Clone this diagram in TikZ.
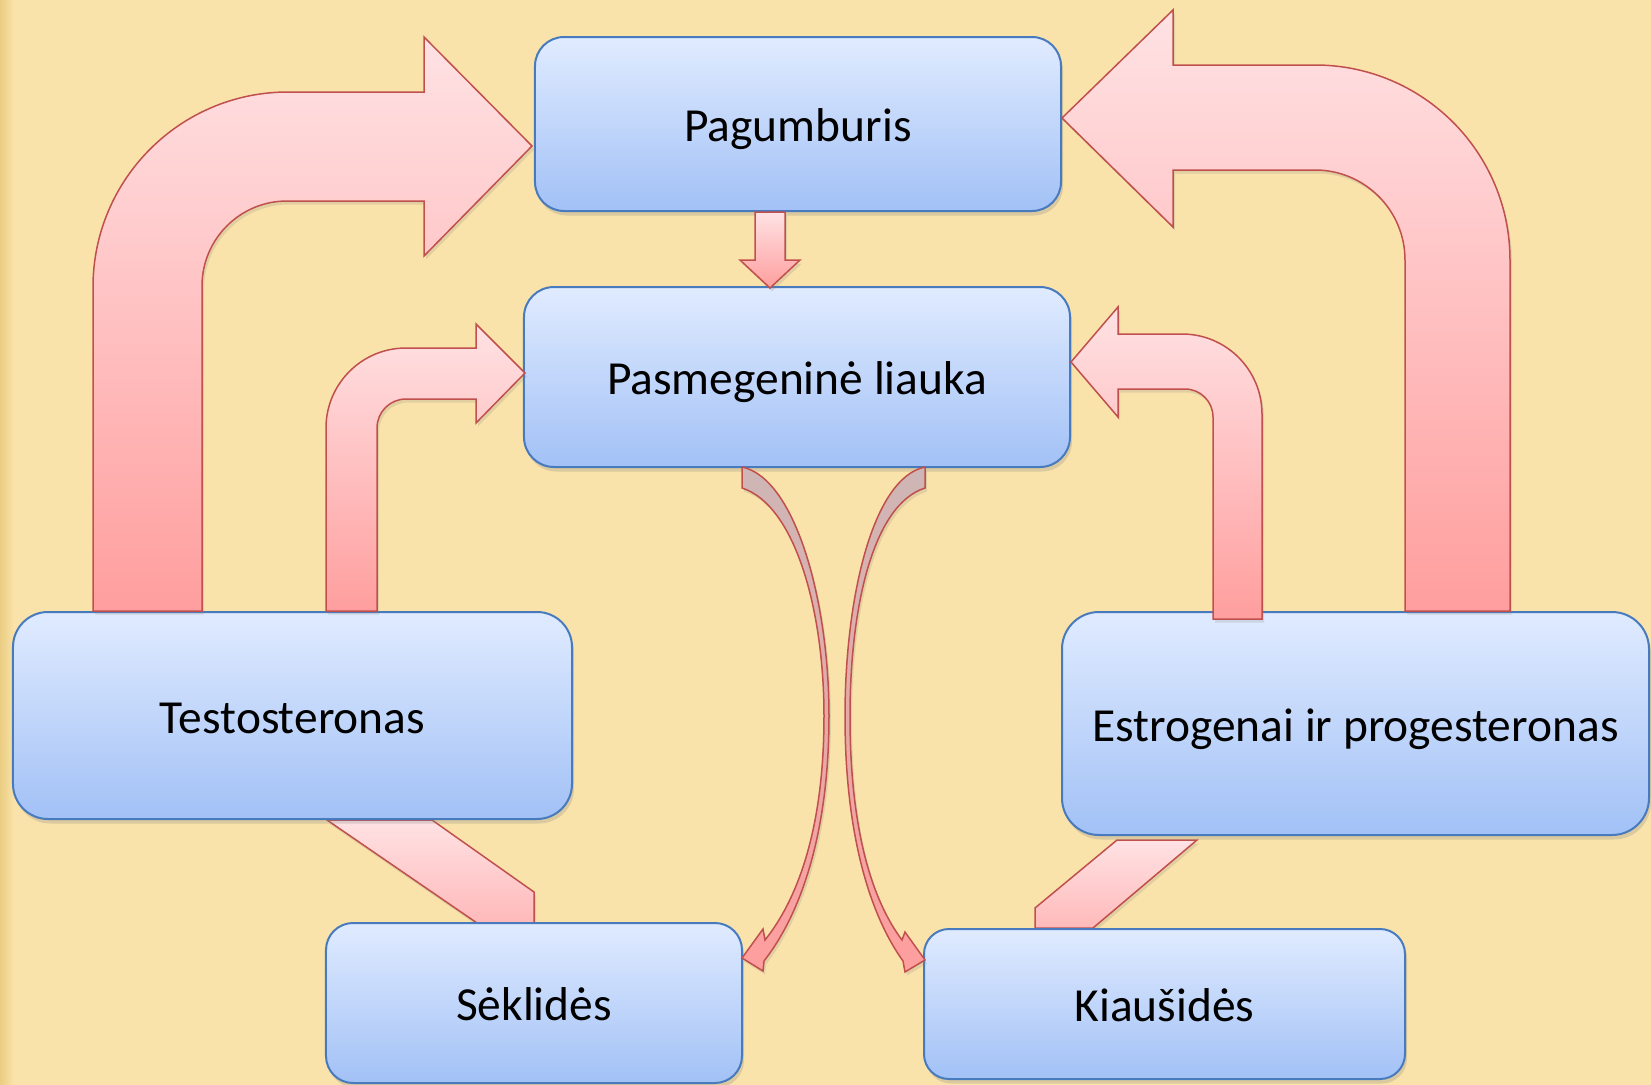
\documentclass[tikz,border=0pt]{standalone}
\usepackage{fontspec}
\setmainfont{Carlito}
\usepackage{tikz}
\usetikzlibrary{shadows}
\usepackage{xcolor}
\definecolor{bg}{RGB}{250,227,170}
\definecolor{bgedge}{RGB}{234,205,130}
\definecolor{boxtop}{RGB}{224,235,255}
\definecolor{boxbot}{RGB}{162,193,246}
\definecolor{boxline}{RGB}{72,122,190}
\definecolor{arrtop}{RGB}{255,226,228}
\definecolor{arrbot}{RGB}{255,158,158}
\definecolor{arrline}{RGB}{192,80,77}
\definecolor{curvetop}{RGB}{206,182,182}
\tikzset{
  organ/.style={draw=boxline, line width=0.4mm, top color=boxtop, bottom color=boxbot,
    inner sep=0pt, outer sep=0pt, font=\fontsize{27}{32}\selectfont,
    text height=20pt, text depth=0pt,
    drop shadow={opacity=0.25, shadow xshift=0.4mm, shadow yshift=-0.9mm}},
  blockarrow/.style={draw=arrline, line width=0.3mm, top color=arrtop, bottom color=arrbot,
    drop shadow={opacity=0.2, shadow xshift=0.4mm, shadow yshift=-0.7mm}},
  thinarrow/.style={blockarrow, top color=curvetop, bottom color=arrbot}
}

\begin{document}
\begin{tikzpicture}[x=0.2mm, y=-0.2mm]
  \fill[bg] (0,0) rectangle (1651,1085);
  \shade[left color=bgedge, right color=bg] (0,0) rectangle (14,1085);
  \useasboundingbox (0,0) rectangle (1651,1085);

  \path[blockarrow, bottom color=arrbot!60!arrtop] (327,820) -- (432,820) -- (534,892) -- (534,923) -- (477,923) -- cycle;
  \path[blockarrow, bottom color=arrbot!60!arrtop] (1117,840) -- (1197,840) -- (1093,928) -- (1035,928) -- (1035,908) -- cycle;

  \node[organ, rounded corners=5.8mm, minimum width=105.2mm, minimum height=34.8mm] (pag) at (798,124) {Pagumburis};
  \node[organ, rounded corners=6mm, minimum width=109.2mm, minimum height=36mm] (pas) at (797,377) {Pasmegeninė liauka};
  \node[organ, rounded corners=7mm, minimum width=111.8mm, minimum height=41.4mm] (tes) at (292.5,715.5) {Testosteronas};
  \node[organ, rounded corners=7.4mm, minimum width=117.4mm, minimum height=44.6mm] (est) at (1355.5,723.5) {Estrogenai ir progesteronas};
  \node[organ, rounded corners=5.4mm, minimum width=83.2mm, minimum height=32mm] (sek) at (534,1003) {Sėklidės};
  \node[organ, rounded corners=5mm, minimum width=96.2mm, minimum height=30mm] (kia) at (1164.5,1004) {Kiaušidės};

  \path[blockarrow] (93,611) -- (93,287) arc[start angle=180, end angle=270, radius=195] -- (424,92) -- (424,37) -- (532,146) -- (424,256) -- (424,201) -- (287,201) arc[start angle=270, end angle=180, radius=85] -- (202,611) -- cycle;
  \path[blockarrow] (1510,611) -- (1510,260) arc[start angle=0, end angle=-90, radius=195] -- (1173,65) -- (1173,10) -- (1062,118) -- (1173,227) -- (1173,170) -- (1315,170) arc[start angle=-90, end angle=0, radius=90] -- (1405,611) -- cycle;
  \path[blockarrow] (326,611) -- (326,428) arc[start angle=180, end angle=270, radius=80] -- (476,348) -- (476,324) -- (525,373) -- (476,423) -- (476,399) -- (406,399) arc[start angle=270, end angle=180, radius=29] -- (377,611) -- cycle;
  \path[blockarrow] (1262,619) -- (1262,414) arc[start angle=0, end angle=-90, radius=80] -- (1118,334) -- (1118,307) -- (1071,362) -- (1118,417) -- (1118,389) -- (1185,389) arc[start angle=-90, end angle=0, radius=28] -- (1213,619) -- cycle;
  \path[blockarrow] (755,212) -- (785,212) -- (785,260) -- (800,260) -- (770,288) -- (740,260) -- (755,260) -- cycle;

  \path[thinarrow] (742,467) .. controls (795,478) and (829,600) .. (829,716) .. controls (829,835) and (800,915) .. (764,961) -- (763,971) -- (742,958) -- (763,929) -- (765,940) .. controls (797,900) and (824,830) .. (824,716) .. controls (824,610) and (795,505) .. (742,488) -- cycle;
  \path[thinarrow] (925,467) .. controls (872,478) and (845,600) .. (845,716) .. controls (845,835) and (870,915) .. (903,961) -- (905,972) -- (925,960) -- (905,932) -- (902,940) .. controls (872,900) and (850,830) .. (850,716) .. controls (850,610) and (872,505) .. (925,488) -- cycle;
\end{tikzpicture}
\end{document}
